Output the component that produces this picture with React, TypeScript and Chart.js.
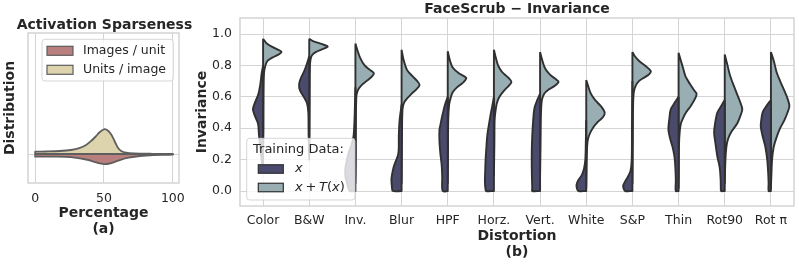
import React, { useEffect, useRef } from 'react';
import { Chart, registerables } from 'chart.js';
Chart.register(...registerables);

// ---------- Panel (b) data ----------
const CATEGORIES = ['Color', 'B&W', 'Inv.', 'Blur', 'HPF', 'Horz.', 'Vert.', 'White', 'S&P', 'Thin', 'Rot90', 'Rot π'];
const Y_TICKS = [0, 0.2, 0.4, 0.6, 0.8, 1.0];

// half-violin profiles: [invariance, half-width (category units)]
const VIOLIN_X: number[][][] = [
  [[0.8, 0], [0.75, 0.03], [0.68, 0.06], [0.62, 0.1], [0.56, 0.18], [0.52, 0.22], [0.48, 0.18], [0.43, 0.11], [0.36, 0.09], [0.3, 0.07], [0.22, 0.04], [0.12, 0]],
  [[0.86, 0], [0.82, 0.04], [0.77, 0.1], [0.72, 0.18], [0.68, 0.22], [0.64, 0.2], [0.6, 0.12], [0.56, 0.05], [0.5, 0.02], [0.4, 0.015], [0.3, 0.01], [0.2, 0]],
  [[0.66, 0], [0.55, 0.01], [0.45, 0.02], [0.35, 0.04], [0.3, 0.08], [0.24, 0.15], [0.16, 0.21], [0.1, 0.22], [0.05, 0.18], [0, 0.12]],
  [[0.55, 0], [0.45, 0.043], [0.35, 0.06], [0.24, 0.07], [0.155, 0.17], [0.1, 0.21], [0.07, 0.22], [0.03, 0.21], [0, 0.19]],
  [[0.6, 0], [0.55, 0.06], [0.49, 0.11], [0.42, 0.16], [0.39, 0.18], [0.32, 0.18], [0.24, 0.16], [0.16, 0.13], [0.09, 0.12], [0, 0.11]],
  [[0.6, 0], [0.55, 0.03], [0.49, 0.07], [0.42, 0.11], [0.35, 0.145], [0.27, 0.165], [0.2, 0.18], [0.12, 0.19], [0.06, 0.195], [0.02, 0.185], [0, 0.17]],
  [[0.62, 0], [0.58, 0.06], [0.53, 0.12], [0.45, 0.15], [0.35, 0.17], [0.25, 0.18], [0.15, 0.18], [0.07, 0.175], [0.02, 0.17], [0, 0.17]],
  [[0.45, 0], [0.3, 0.01], [0.2, 0.02], [0.14, 0.05], [0.1, 0.1], [0.07, 0.17], [0.04, 0.21], [0.015, 0.2], [0, 0.17]],
  [[0.7, 0], [0.4, 0.01], [0.2, 0.015], [0.13, 0.04], [0.09, 0.1], [0.06, 0.16], [0.035, 0.2], [0.015, 0.19], [0, 0.16]],
  [[0.6, 0], [0.56, 0.09], [0.52, 0.17], [0.46, 0.2], [0.39, 0.22], [0.33, 0.18], [0.28, 0.13], [0.22, 0.09], [0.15, 0.07], [0.07, 0.06], [0, 0.06]],
  [[0.58, 0], [0.54, 0.08], [0.5, 0.16], [0.43, 0.21], [0.37, 0.23], [0.3, 0.2], [0.22, 0.16], [0.15, 0.11], [0.08, 0.09], [0.02, 0.085], [0, 0.08]],
  [[0.58, 0], [0.54, 0.1], [0.5, 0.18], [0.45, 0.21], [0.41, 0.22], [0.35, 0.18], [0.28, 0.12], [0.2, 0.08], [0.12, 0.06], [0.05, 0.05], [0, 0.05]],
];

const VIOLIN_XT: number[][][] = [
  [[0.97, 0], [0.94, 0.08], [0.915, 0.22], [0.895, 0.36], [0.885, 0.4], [0.87, 0.34], [0.85, 0.2], [0.83, 0.1], [0.8, 0.05], [0.75, 0.02], [0.6, 0.01], [0.4, 0.008], [0.25, 0]],
  [[0.97, 0], [0.955, 0.08], [0.935, 0.28], [0.92, 0.4], [0.905, 0.3], [0.885, 0.14], [0.865, 0.06], [0.84, 0.03], [0.8, 0.015], [0.6, 0.01], [0.35, 0.005], [0.25, 0]],
  [[0.94, 0], [0.9, 0.04], [0.85, 0.1], [0.8, 0.2], [0.77, 0.32], [0.75, 0.4], [0.73, 0.36], [0.7, 0.24], [0.67, 0.12], [0.64, 0.05], [0.6, 0.02], [0.4, 0.01], [0.2, 0.008], [0.05, 0]],
  [[0.9, 0], [0.84, 0.04], [0.77, 0.12], [0.73, 0.24], [0.7, 0.34], [0.675, 0.39], [0.65, 0.33], [0.62, 0.22], [0.59, 0.12], [0.56, 0.05], [0.52, 0.02], [0.4, 0.01], [0.2, 0.005], [0.05, 0]],
  [[0.89, 0], [0.84, 0.04], [0.79, 0.1], [0.75, 0.24], [0.72, 0.4], [0.69, 0.33], [0.66, 0.2], [0.63, 0.11], [0.59, 0.06], [0.55, 0.03], [0.45, 0.01], [0.2, 0.005], [0.05, 0]],
  [[0.9, 0], [0.85, 0.04], [0.8, 0.09], [0.76, 0.17], [0.72, 0.32], [0.695, 0.38], [0.67, 0.32], [0.64, 0.22], [0.6, 0.12], [0.56, 0.065], [0.5, 0.03], [0.45, 0.015], [0.3, 0.01], [0.1, 0]],
  [[0.885, 0], [0.84, 0.04], [0.78, 0.11], [0.74, 0.22], [0.71, 0.35], [0.695, 0.4], [0.67, 0.32], [0.645, 0.18], [0.62, 0.09], [0.58, 0.04], [0.5, 0.02], [0.3, 0.01], [0.1, 0]],
  [[0.707, 0], [0.67, 0.04], [0.62, 0.1], [0.58, 0.19], [0.54, 0.32], [0.5, 0.4], [0.47, 0.36], [0.44, 0.25], [0.4, 0.14], [0.36, 0.07], [0.32, 0.03], [0.25, 0.015], [0.1, 0.005], [0.02, 0]],
  [[0.886, 0], [0.86, 0.05], [0.83, 0.14], [0.8, 0.27], [0.775, 0.37], [0.76, 0.4], [0.74, 0.35], [0.72, 0.24], [0.7, 0.14], [0.67, 0.07], [0.63, 0.03], [0.55, 0.015], [0.3, 0.008], [0.05, 0]],
  [[0.88, 0], [0.83, 0.05], [0.78, 0.1], [0.73, 0.15], [0.68, 0.25], [0.64, 0.34], [0.62, 0.39], [0.59, 0.36], [0.54, 0.26], [0.5, 0.16], [0.46, 0.09], [0.43, 0.05], [0.38, 0.025], [0.3, 0.01], [0.1, 0.005], [0.02, 0]],
  [[0.87, 0], [0.8, 0.06], [0.74, 0.11], [0.69, 0.17], [0.63, 0.25], [0.57, 0.33], [0.52, 0.38], [0.48, 0.34], [0.43, 0.27], [0.38, 0.15], [0.33, 0.07], [0.28, 0.035], [0.2, 0.015], [0.05, 0]],
  [[0.886, 0], [0.82, 0.07], [0.76, 0.12], [0.7, 0.2], [0.64, 0.29], [0.58, 0.37], [0.54, 0.4], [0.5, 0.36], [0.45, 0.29], [0.4, 0.2], [0.34, 0.12], [0.28, 0.06], [0.2, 0.025], [0.1, 0.01], [0.02, 0]],
];

// ---------- Panel (a) data ----------
const PCT_TICKS = [0, 50, 100];
// [percentage, density]
const UNITS_PER_IMAGE = [[0, 0.0023], [8, 0.0025], [18, 0.003], [26, 0.004], [32, 0.0058], [37, 0.009], [41, 0.0135], [44, 0.0175], [47, 0.022], [50.4, 0.0248], [53, 0.0232], [55.5, 0.019], [58, 0.012], [60, 0.0065], [62.5, 0.003], [66, 0.0013], [72, 0.0006], [85, 0.0002], [100, 0]];
const IMAGES_PER_UNIT = [[0, 0.0027], [10, 0.0027], [22, 0.0028], [30, 0.0038], [37, 0.0055], [43, 0.0078], [47, 0.0094], [50.4, 0.0101], [54, 0.0095], [58, 0.0078], [62, 0.0058], [68, 0.0037], [76, 0.002], [86, 0.001], [100, 0.0005]];

// ---------- styles ----------
const FONT = '"DejaVu Sans", sans-serif';
const TXT = '#262626';
const GRID = '#d4d4d4';
const DARK = '#4a4a6c';
const LIGHT = '#98aeb3';
const EDGE_B = '#303030';
const ROSE = '#b97e7e';
const BEIGE = '#ddd4ae';
const EDGE_A = '#5e5e5e';

function halfViolinV(profile: number[][], center: number, sign: number) {
  const pts = profile.map(([v, w]) => ({ x: center + sign * w, y: v }));
  const top = profile[0][0];
  const bot = profile[profile.length - 1][0];
  pts.push({ x: center, y: bot }, { x: center, y: bot }, { x: center, y: top });
  return pts;
}

function halfViolinH(profile: number[][], sign: number) {
  const p0 = profile[0][0];
  const pn = profile[profile.length - 1][0];
  const pts: { x: number; y: number }[] = [{ x: p0, y: 0 }];
  profile.forEach(([p, d], i) => {
    pts.push({ x: p, y: sign * d });
    if (i === 0) pts.push({ x: p, y: sign * d });
  });
  pts.push({ x: pn, y: 0 }, { x: pn, y: 0 }, { x: p0, y: 0 });
  return pts;
}

const framePlugin = {
  id: 'frame',
  beforeDatasetsDraw(chart: any) {
    const { ctx, chartArea: a } = chart;
    ctx.save();
    ctx.strokeStyle = GRID;
    ctx.lineWidth = 1.5;
    ctx.strokeRect(a.left, a.top, a.right - a.left, a.bottom - a.top);
    ctx.restore();
  },
};

function roundRect(ctx: CanvasRenderingContext2D, x: number, y: number, w: number, h: number, r: number) {
  ctx.beginPath();
  ctx.moveTo(x + r, y);
  ctx.lineTo(x + w - r, y);
  ctx.quadraticCurveTo(x + w, y, x + w, y + r);
  ctx.lineTo(x + w, y + h - r);
  ctx.quadraticCurveTo(x + w, y + h, x + w - r, y + h);
  ctx.lineTo(x + r, y + h);
  ctx.quadraticCurveTo(x, y + h, x, y + h - r);
  ctx.lineTo(x, y + r);
  ctx.quadraticCurveTo(x, y, x + r, y);
  ctx.closePath();
}

type Part = { t: string; i?: boolean; gap?: number };
function drawParts(ctx: CanvasRenderingContext2D, parts: Part[], x: number, y: number, size: number) {
  let cx = x;
  for (const p of parts) {
    ctx.font = `${p.i ? 'italic ' : ''}${size}px ${FONT}`;
    cx += p.gap || 0;
    ctx.fillText(p.t, cx, y);
    cx += ctx.measureText(p.t).width + (p.gap || 0);
  }
}

const LEGEND_B: { color: string; parts: Part[] }[] = [
  { color: DARK, parts: [{ t: 'x', i: true }] },
  { color: LIGHT, parts: [{ t: 'x', i: true }, { t: '+', gap: 2.7 }, { t: 'T', i: true }, { t: '(' }, { t: 'x', i: true }, { t: ')' }] },
];
const LEGEND_A = [
  { color: ROSE, label: 'Images / unit' },
  { color: BEIGE, label: 'Units / image' },
];

const overlayB = {
  id: 'overlayB',
  afterDraw(chart: any) {
    const { ctx, chartArea: a } = chart;
    ctx.save();
    ctx.fillStyle = TXT;
    ctx.textBaseline = 'middle';
    ctx.textAlign = 'center';
    ctx.font = `bold 14px ${FONT}`;
    ctx.fillText('FaceScrub − Invariance', (a.left + a.right) / 2, 9.5);
    // legend
    roundRect(ctx, a.left + 6.7, a.bottom - 67.7, 108.3, 61.7, 3);
    ctx.fillStyle = 'rgba(255,255,255,0.8)';
    ctx.fill();
    ctx.strokeStyle = 'rgba(204,204,204,0.8)';
    ctx.lineWidth = 1;
    ctx.stroke();
    ctx.textAlign = 'left';
    ctx.fillStyle = TXT;
    ctx.font = `13px ${FONT}`;
    ctx.fillText('Training Data:', a.left + 13, a.bottom - 56);
    const rows = [a.bottom - 37, a.bottom - 18.5];
    LEGEND_B.forEach((it, k) => {
      ctx.fillStyle = it.color;
      ctx.strokeStyle = EDGE_B;
      ctx.lineWidth = 1.2;
      ctx.fillRect(a.left + 18.3, rows[k] - 4.25, 25, 8.5);
      ctx.strokeRect(a.left + 18.3, rows[k] - 4.25, 25, 8.5);
      ctx.fillStyle = TXT;
      drawParts(ctx, it.parts, a.left + 55, rows[k], 13);
    });
    ctx.restore();
  },
};

const overlayA = {
  id: 'overlayA',
  afterDraw(chart: any) {
    const { ctx, chartArea: a } = chart;
    ctx.save();
    ctx.fillStyle = TXT;
    ctx.textBaseline = 'middle';
    ctx.textAlign = 'center';
    ctx.font = `bold 14px ${FONT}`;
    ctx.fillText('Activation Sparseness', (a.left + a.right) / 2 + 1, 25);
    roundRect(ctx, a.left + 14, a.top + 6.3, 131.3, 41.7, 3);
    ctx.fillStyle = 'rgba(255,255,255,0.8)';
    ctx.fill();
    ctx.strokeStyle = 'rgba(204,204,204,0.8)';
    ctx.lineWidth = 1;
    ctx.stroke();
    ctx.textAlign = 'left';
    const rows = [a.top + 17.8, a.top + 36.8];
    LEGEND_A.forEach((it, k) => {
      ctx.fillStyle = it.color;
      ctx.strokeStyle = EDGE_A;
      ctx.lineWidth = 1.2;
      ctx.fillRect(a.left + 19, rows[k] - 4.5, 26, 9);
      ctx.strokeRect(a.left + 19, rows[k] - 4.5, 26, 9);
      ctx.fillStyle = TXT;
      ctx.font = `12.5px ${FONT}`;
      ctx.fillText(it.label, a.left + 55, rows[k]);
    });
    ctx.restore();
  },
};

export default function App() {
  const refA = useRef<HTMLCanvasElement>(null);
  const refB = useRef<HTMLCanvasElement>(null);

  useEffect(() => {
    const tickFont = { family: FONT, size: 12.5 };
    const titleFont = (lh: number) => ({ family: FONT, size: 14, weight: 'bold' as const, lineHeight: lh });

    // ----- Panel (b) -----
    const dsB: any[] = [];
    CATEGORIES.forEach((_, i) => {
      [
        { prof: VIOLIN_X[i], sign: -1, color: DARK },
        { prof: VIOLIN_XT[i], sign: 1, color: LIGHT },
      ].forEach((h) => {
        dsB.push({
          data: halfViolinV(h.prof, i, h.sign),
          showLine: true,
          fill: 'shape',
          backgroundColor: h.color,
          borderColor: EDGE_B,
          borderWidth: 1.9,
          borderJoinStyle: 'round',
          pointRadius: 0,
          pointHoverRadius: 0,
          tension: 0.3,
        });
      });
    });

    const chartB = new Chart(refB.current!, {
      type: 'scatter',
      data: { datasets: dsB },
      options: {
        animation: false,
        responsive: false,
        events: [],
        layout: { padding: { left: 0, top: 18, right: 5, bottom: 6.85 } },
        plugins: { legend: { display: false }, tooltip: { enabled: false }, title: { display: false } },
        scales: {
          x: {
            type: 'linear',
            min: -0.5,
            max: 11.5,
            afterBuildTicks: (s: any) => { s.ticks = CATEGORIES.map((_, i) => ({ value: i })); },
            afterFit: (s: any) => { s.height = 54.15; },
            ticks: { callback: (v: any) => CATEGORIES[v], padding: 7.5, font: tickFont, color: TXT, autoSkip: false, maxRotation: 0 },
            grid: { color: GRID, lineWidth: 1, drawTicks: false },
            border: { display: false },
            title: { display: true, text: ['Distortion', '(b)'], font: titleFont(16 / 14), color: TXT, padding: 0 },
          },
          y: {
            type: 'linear',
            min: -0.0955,
            max: 1.102,
            afterBuildTicks: (s: any) => { s.ticks = Y_TICKS.map((v) => ({ value: v })); },
            afterFit: (s: any) => { s.width = 50; },
            ticks: { callback: (v: any) => Number(v).toFixed(1), padding: 8, font: tickFont, color: TXT },
            grid: { color: GRID, lineWidth: 1, drawTicks: false },
            border: { display: false },
            title: { display: true, text: 'Invariance', font: titleFont(1.2), color: TXT, padding: { top: 3.6, bottom: 0 } },
          },
        },
      } as any,
      plugins: [framePlugin, overlayB],
    });

    // ----- Panel (a) -----
    const dsA = [
      { prof: UNITS_PER_IMAGE, sign: 1, color: BEIGE },
      { prof: IMAGES_PER_UNIT, sign: -1, color: ROSE },
    ].map((h) => ({
      data: halfViolinH(h.prof, h.sign),
      showLine: true,
      fill: 'shape',
      backgroundColor: h.color,
      borderColor: EDGE_A,
      borderWidth: 1.8,
      borderJoinStyle: 'round',
      pointRadius: 0,
      pointHoverRadius: 0,
      tension: 0.3,
    }));

    const chartA = new Chart(refA.current!, {
      type: 'scatter',
      data: { datasets: dsA as any },
      options: {
        animation: false,
        responsive: false,
        events: [],
        layout: { padding: { left: 0, top: 33, right: 21, bottom: 28.8 } },
        plugins: { legend: { display: false }, tooltip: { enabled: false }, title: { display: false } },
        scales: {
          x: {
            type: 'linear',
            min: -5.2,
            max: 104.5,
            afterBuildTicks: (s: any) => { s.ticks = PCT_TICKS.map((v) => ({ value: v })); },
            afterFit: (s: any) => { s.height = 55.2; },
            ticks: { padding: 8.5, font: tickFont, color: TXT, autoSkip: false, maxRotation: 0 },
            grid: { color: GRID, lineWidth: 1, drawTicks: false },
            border: { display: false },
            title: { display: true, text: ['Percentage', '(a)'], font: titleFont(1.2), color: TXT, padding: 0 },
          },
          y: {
            type: 'linear',
            min: -0.029,
            max: 0.121,
            afterBuildTicks: (s: any) => { s.ticks = [{ value: 0 }]; },
            afterFit: (s: any) => { s.width = 28; },
            ticks: { display: false },
            grid: { color: GRID, lineWidth: 1, drawTicks: false },
            border: { display: false },
            title: { display: true, text: 'Distribution', font: titleFont(1.2), color: TXT, padding: { top: 1.6, bottom: 0 } },
          },
        },
      } as any,
      plugins: [framePlugin, overlayA],
    });

    return () => {
      chartA.destroy();
      chartB.destroy();
    };
  }, []);

  return (
    <div style={{ position: 'absolute', left: 0, top: 0, width: 799, height: 267, background: '#ffffff', overflow: 'hidden' }}>
      <canvas ref={refA} width={200} height={267} style={{ position: 'absolute', left: 0, top: 0, width: 200, height: 267 }} />
      <canvas ref={refB} width={609} height={267} style={{ position: 'absolute', left: 190, top: 0, width: 609, height: 267 }} />
    </div>
  );
}
